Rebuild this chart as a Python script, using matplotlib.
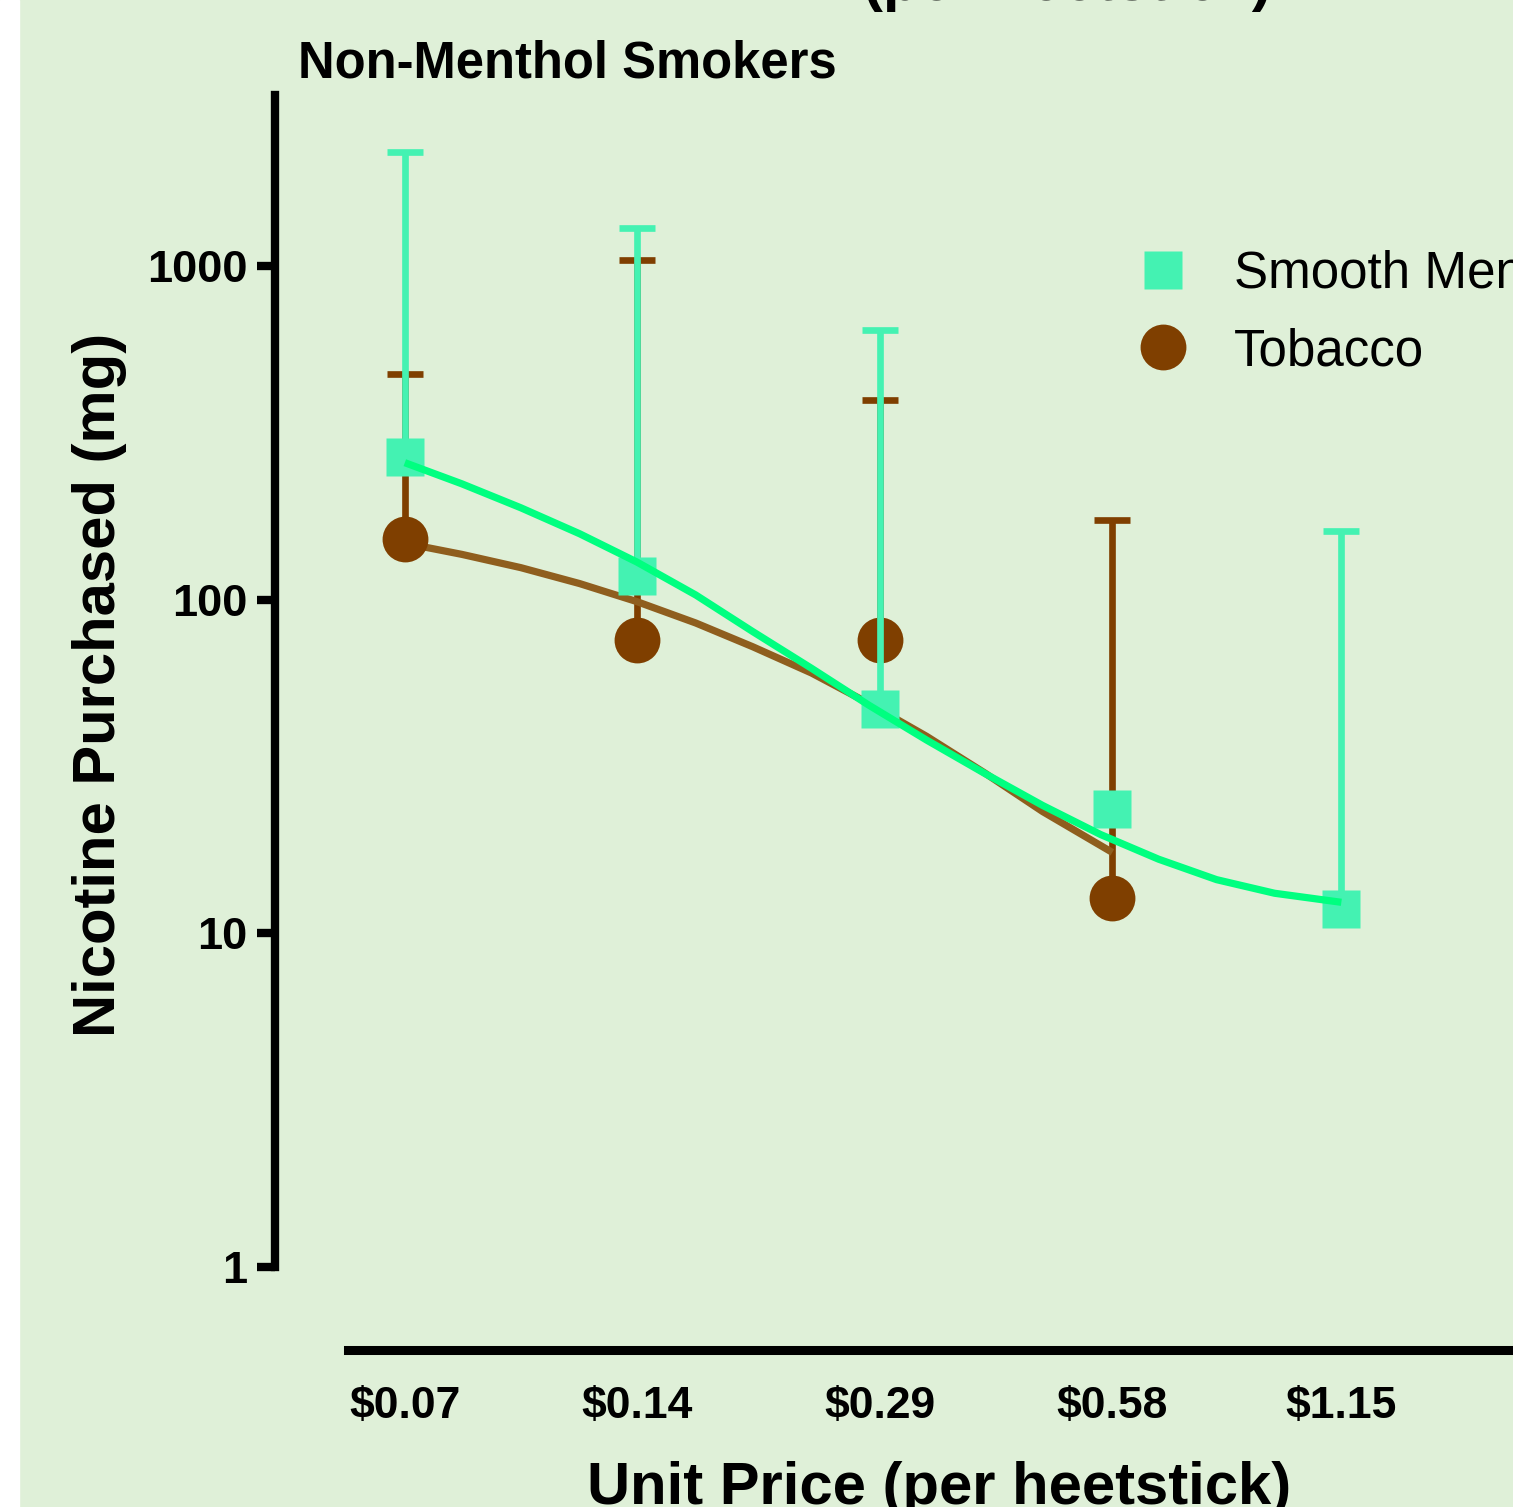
import matplotlib
matplotlib.use("Agg")
import numpy as np
import matplotlib.pyplot as plt
from matplotlib.lines import Line2D
from matplotlib.patches import Rectangle
from matplotlib.ticker import NullLocator, FixedLocator

plt.rcParams['font.family'] = ['Liberation Sans', 'DejaVu Sans']

# unit prices ($ per heetstick), plotted on a log2 axis
prices = [0.07, 0.14, 0.29, 0.58, 1.15]
price_labels = ['$0.07', '$0.14', '$0.29', '$0.58', '$1.15']

# Smooth Menthol: mean nicotine purchased and upper error limit (mg)
menthol_mean = [268, 118, 47, 23.6, 11.8]
menthol_upper = [2205, 1304, 645, 23.6, 161]

# Tobacco: no purchase data at the highest price
tobacco_mean = [152, 76, 76, 12.8]
tobacco_upper = [476, 1045, 398, 174]

# fitted demand curves
menthol_fit_x = [0.07, 0.083, 0.099, 0.118, 0.14, 0.167, 0.198, 0.236, 0.28,
                 0.333, 0.396, 0.471, 0.56, 0.666, 0.792, 0.942, 1.15]
menthol_fit_y = [258, 223, 189, 158, 130, 103.5, 80.4, 62.4, 48.4,
                 38, 30.2, 24.2, 19.8, 16.7, 14.5, 13.2, 12.4]
tobacco_fit_x = [0.07, 0.083, 0.099, 0.118, 0.14, 0.167, 0.198, 0.236, 0.28,
                 0.333, 0.396, 0.471, 0.58]
tobacco_fit_y = [148, 137, 125, 112, 98.9, 85.3, 72.4, 60.4, 49.0,
                 39.0, 30.3, 23.2, 17.5]

bg = '#DFF0D8'
mint = '#44F2B2'
mint_line = '#00FF80'
brown = '#7F3F00'
brown_line = '#8F5E1E'

fig = plt.figure(figsize=(15.13, 15.07), dpi=100, facecolor=bg)
fig.add_artist(Rectangle((0, 0), 19 / 1513, 1, transform=fig.transFigure,
                         color='white', zorder=0))

ax = fig.add_axes([0.1818, 0.1042, 0.868, 0.8328])
ax.set_facecolor(bg)
ax.set_yscale('log')
ax.set_xscale('log', base=2)
ax.set_ylim(0.5638, 3268)
ax.set_xlim(0.0475, 2.406)

n_tob = len(tobacco_mean)

# tobacco: error bars, fit, points
ax.errorbar(prices[:n_tob], tobacco_mean,
            yerr=[np.zeros(n_tob), np.array(tobacco_upper) - np.array(tobacco_mean)],
            fmt='none', ecolor=brown, elinewidth=4.8, capsize=13, capthick=4.8, zorder=2)
ax.plot(tobacco_fit_x, tobacco_fit_y, color=brown_line, lw=5.2, zorder=3,
        solid_capstyle='butt', solid_joinstyle='round')
ax.plot(prices[:n_tob], tobacco_mean, 'o', ms=33, color=brown, mec='none', zorder=4)

# smooth menthol: error bars, points, fit
ax.errorbar(prices, menthol_mean,
            yerr=[np.zeros(len(prices)), np.array(menthol_upper) - np.array(menthol_mean)],
            fmt='none', ecolor=mint, elinewidth=4.8, capsize=13, capthick=4.8, zorder=5)
ax.plot(prices, menthol_mean, 's', ms=27.4, color=mint, mec='none', zorder=6)
ax.plot(menthol_fit_x, menthol_fit_y, color=mint_line, lw=5.2, zorder=7,
        solid_capstyle='butt', solid_joinstyle='round')

# axes styling
for s in ['top', 'right']:
    ax.spines[s].set_visible(False)
ax.spines['left'].set_linewidth(6)
ax.spines['left'].set_bounds(1, 3268)
ax.spines['bottom'].set_linewidth(6.5)
ax.spines['bottom'].set_bounds(0.0591, 2.406)

ax.set_yticks([1, 10, 100, 1000])
ax.set_yticklabels(['1', '10', '100', '1000'])
ax.yaxis.set_minor_locator(NullLocator())
ax.tick_params(axis='y', length=13, width=6, pad=7, labelsize=32.5)
ax.xaxis.set_major_locator(FixedLocator(prices))
ax.xaxis.set_minor_locator(NullLocator())
ax.set_xticklabels(price_labels)
ax.tick_params(axis='x', length=0, pad=26, labelsize=32)
for lab in ax.get_xticklabels() + ax.get_yticklabels():
    lab.set_fontweight('bold')

# text
fig.text(1272 / 1513, 1.0, '(per heetstick)', ha='right', va='baseline',
         fontsize=43, fontweight='bold')
fig.text(298 / 1513, 1 - 78 / 1507, 'Non-Menthol Smokers', ha='left', va='baseline',
         fontsize=36.5, fontweight='bold')
fig.text(100 / 1513, 1 - 685 / 1507, 'Nicotine Purchased (mg)', rotation=90,
         ha='center', va='center', fontsize=43, fontweight='bold')
fig.text(939 / 1513, 1 - 1504 / 1507, 'Unit Price (per heetstick)', ha='center',
         va='baseline', fontsize=43, fontweight='bold')

handles = [Line2D([], [], marker='s', ms=27.4, color=mint, mec='none', ls='none'),
           Line2D([], [], marker='o', ms=33, color=brown, mec='none', ls='none')]
fig.legend(handles, ['Smooth Menthol', 'Tobacco'], loc='upper left',
           bbox_to_anchor=(1139 / 1513, 1 - 250 / 1507), frameon=False,
           fontsize=36.8, handlelength=0.95, handletextpad=0.9, labelspacing=0.55,
           borderpad=0, borderaxespad=0)

fig.savefig('out.png', dpi=100, facecolor=fig.get_facecolor())
